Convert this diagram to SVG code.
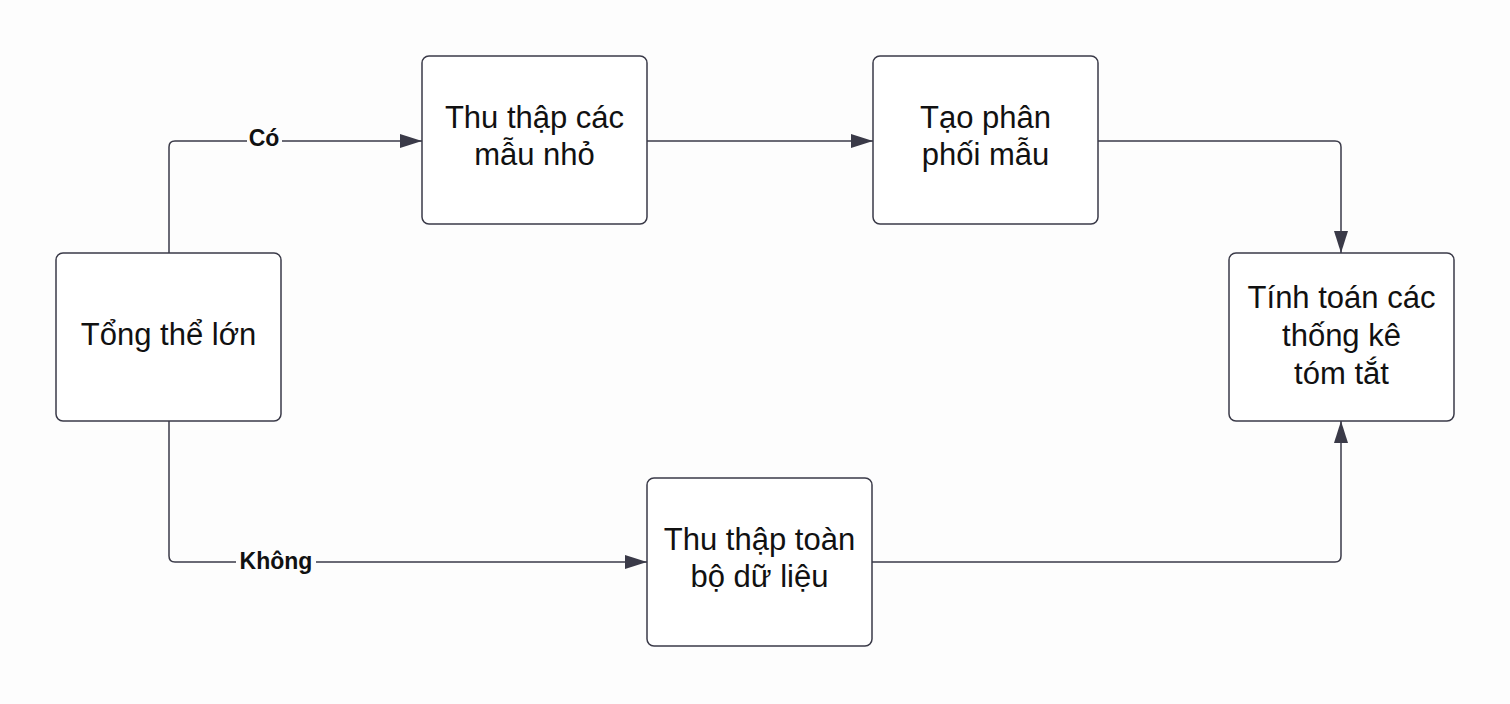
<svg xmlns="http://www.w3.org/2000/svg" width="1510" height="704" viewBox="0 0 1510 704">
<defs>
<marker id="ah" viewBox="0 0 22 14" refX="22" refY="7" markerWidth="22" markerHeight="14" markerUnits="userSpaceOnUse" orient="auto"><path d="M0,0 L22,7 L0,14 z" fill="#3a3a48"/></marker>
<style>
.n{fill:#fff;stroke:#3a3a48;stroke-width:1.5}
.t{font-family:"Liberation Sans",Arial,sans-serif;font-size:31px;fill:#111;text-anchor:middle}
.c{fill:none;stroke:#3a3a48;stroke-width:1.5;marker-end:url(#ah)}
.l{font-family:"Liberation Sans",Arial,sans-serif;font-size:23px;font-weight:bold;fill:#111;text-anchor:middle}
</style>
</defs>
<rect width="1510" height="704" fill="#fdfdfd"/>
<g id="connectors">
<path class="c" d="M169,253 V147 Q169,141 175,141 H422"/>
<path class="c" d="M647,141 H873"/>
<path class="c" d="M1098,141 H1335 Q1341,141 1341,147 V253"/>
<path class="c" d="M169,421 V556 Q169,562 175,562 H647"/>
<path class="c" d="M872,562 H1335 Q1341,562 1341,556 V421"/>
<rect x="247" y="126" width="35" height="28" fill="#fdfdfd"/>
<text class="l" x="264" y="146">Có</text>
<rect x="236" y="547" width="80" height="30" fill="#fdfdfd"/>
<text class="l" x="276" y="569">Không</text>
</g>
<g id="n1"><rect class="n" x="56" y="253" width="225" height="168" rx="7"/><text class="t" x="168.5" y="345">Tổng thể lớn</text></g>
<g id="n2"><rect class="n" x="422" y="56" width="225" height="168" rx="7"/><text class="t" x="534.5" y="128">Thu thập các</text><text class="t" x="534.5" y="165">mẫu nhỏ</text></g>
<g id="n3"><rect class="n" x="873" y="56" width="225" height="168" rx="7"/><text class="t" x="985.5" y="128">Tạo phân</text><text class="t" x="985.5" y="165">phối mẫu</text></g>
<g id="n4"><rect class="n" x="1229" y="253" width="225" height="168" rx="7"/><text class="t" x="1341.5" y="308">Tính toán các</text><text class="t" x="1341.5" y="346">thống kê</text><text class="t" x="1341.5" y="384">tóm tắt</text></g>
<g id="n5"><rect class="n" x="647" y="478" width="225" height="168" rx="7"/><text class="t" x="759.5" y="550">Thu thập toàn</text><text class="t" x="759.5" y="587">bộ dữ liệu</text></g>
</svg>
